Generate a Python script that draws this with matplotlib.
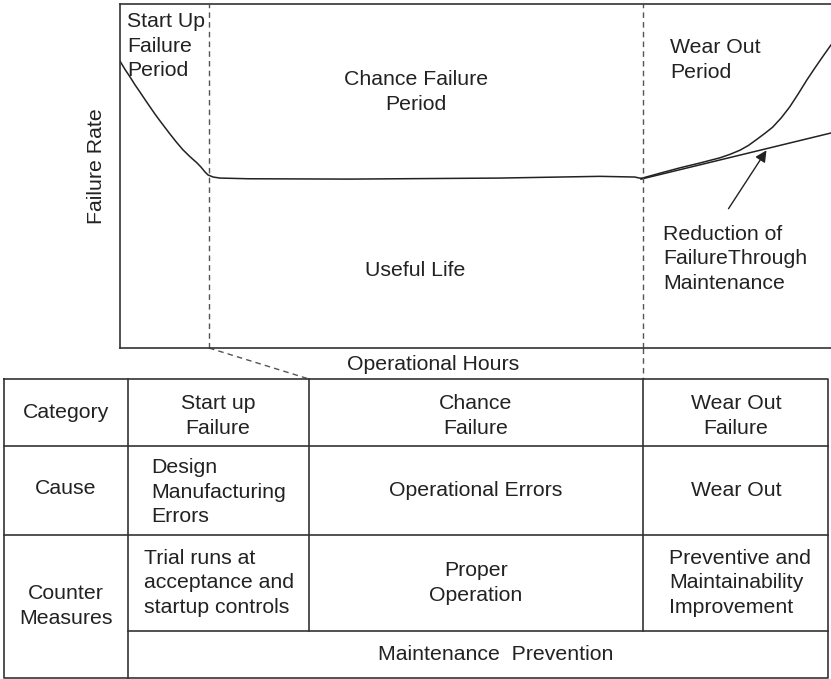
import matplotlib
matplotlib.use("Agg")
import matplotlib.pyplot as plt

plt.rcParams['font.family'] = ['Liberation Sans', 'DejaVu Sans']

# ---- data (hours 0..100, failure rate 0..100, arbitrary units) ----
early_hours = [0, 0.7, 1.41, 2.11, 2.81, 3.52, 4.22, 4.92, 5.63, 6.33, 7.03, 7.95, 8.86, 9.85,
               10.83, 11.39, 11.9, 12.38, 13.1, 14.06, 18.0, 32.3, 53.4, 67.5, 72.4, 73.3]
early_rate = [83.4, 81.0, 78.8, 76.5, 74.4, 72.2, 70.1, 68.0, 66.0, 64.1, 62.2, 59.8, 57.6, 55.6,
              53.8, 52.6, 51.3, 50.3, 49.7, 49.4, 49.2, 49.1, 49.4, 49.9, 49.7, 49.3]
wear_hours = [73.3, 76.1, 78.8, 81.6, 84.4, 85.8, 87.2, 88.4, 89.6, 90.7, 91.8, 93.0, 94.2,
              95.4, 96.6, 97.7, 98.8, 100]
wear_rate = [49.3, 50.9, 52.4, 53.8, 55.3, 56.3, 57.5, 58.9, 60.7, 62.4, 64.2, 66.9, 70.1,
             73.9, 77.9, 81.3, 84.6, 88.1]
maint_hours = [73.3, 100]
maint_rate = [49.1, 62.5]
phase_bounds = [12.5, 73.6]

row_labels = ["Category", "Cause", "Counter\nMeasures"]
category_texts = ["Start up\nFailure", "Chance\nFailure", "Wear Out\nFailure"]
cause_texts = ["Design\nManufacturing\nErrors", "Operational Errors", "Wear Out"]
measure_texts = ["Trial runs at\nacceptance and\nstartup controls", "Proper\nOperation",
                 "Preventive and\nMaintainability\nImprovement"]
common_measure = "Maintenance  Prevention"

W, H = 831, 679
fig = plt.figure(figsize=(W / 100, H / 100), dpi=100)
fig.patch.set_facecolor('white')

TXT = '#222222'
LINE = '#333333'
DASH = '#555555'
FS = 15.3
LS = 1.38

# overlay axes in pixel coordinates for the layout
ov = fig.add_axes([0, 0, 1, 1], zorder=0)
ov.set_xlim(0, W)
ov.set_ylim(H, 0)
ov.axis('off')

# top plot
px_left, px_right, px_top, px_bot = 120, 831, 4, 348
ax = fig.add_axes([px_left / W, 1 - px_bot / H, (px_right - px_left) / W, (px_bot - px_top) / H], zorder=1)
ax.patch.set_alpha(0)
ax.set_xlim(0, 100)
ax.set_ylim(0, 100)
ax.set_xticks([])
ax.set_yticks([])
for s in ['left', 'top', 'bottom']:
    ax.spines[s].set_color(LINE)
    ax.spines[s].set_linewidth(1.2)
ax.spines['right'].set_visible(False)

ax.plot(early_hours, early_rate, color=TXT, lw=1.1, solid_joinstyle='round')
ax.plot(wear_hours, wear_rate, color=TXT, lw=1.1, solid_joinstyle='round')
ax.plot(maint_hours, maint_rate, color=TXT, lw=1.1)
for b in phase_bounds:
    ax.axvline(b, color=DASH, lw=1.0, ls=(0, (4, 3)))

# connectors from plot to table
ov.plot([209, 309], [348, 379], color=DASH, lw=1.0, ls=(0, (4, 3)))
ov.plot([643, 643], [348, 379], color=DASH, lw=1.0, ls=(0, (4, 3)))

# arrow
ov.annotate('', xy=(768, 148), xytext=(727, 211),
            arrowprops=dict(arrowstyle='-|>', color=TXT, lw=1.0, mutation_scale=17))

# plot texts
ov.text(127, 12, "Start Up\nFailure\nPeriod", ha='left', va='top', fontsize=FS, color=TXT, linespacing=LS)
ov.text(416, 92, "Chance Failure\nPeriod", ha='center', va='center', fontsize=FS, color=TXT, linespacing=LS)
ov.text(670, 60, "Wear Out\nPeriod", ha='left', va='center', fontsize=FS, color=TXT, linespacing=LS)
ov.text(663, 259, "Reduction of\nFailureThrough\nMaintenance", ha='left', va='center', fontsize=FS,
        color=TXT, linespacing=LS)
ov.text(415, 270, "Useful Life", ha='center', va='center', fontsize=FS, color=TXT)
ov.text(97, 166, "Failure Rate", ha='center', va='center', rotation=90, fontsize=FS, color=TXT)
ov.text(433, 364, "Operational Hours", ha='center', va='center', fontsize=FS, color=TXT)

# table
xs = [4, 128, 309, 643, 828]
ys = [379, 446, 535, 631, 678]
lk = dict(color=LINE, lw=1.2, solid_capstyle='projecting')
ov.plot([xs[0], xs[-1], xs[-1], xs[0], xs[0]], [ys[0], ys[0], ys[-1], ys[-1], ys[0]], **lk)
ov.plot([xs[0], xs[-1]], [ys[1], ys[1]], **lk)
ov.plot([xs[0], xs[-1]], [ys[2], ys[2]], **lk)
ov.plot([xs[1], xs[-1]], [ys[3], ys[3]], **lk)
ov.plot([xs[1], xs[1]], [ys[0], ys[-1]], **lk)
for x in xs[2:4]:
    ov.plot([x, x], [ys[0], ys[3]], **lk)

ov.text(66, 412, row_labels[0], ha='center', va='center', fontsize=FS, color=TXT)
ov.text(66, 489, row_labels[1], ha='center', va='center', fontsize=FS, color=TXT)
ov.text(66, 606, row_labels[2], ha='center', va='center', fontsize=FS, color=TXT, linespacing=LS)

cat_x = [218, 476, 736]
for x, t in zip(cat_x, category_texts):
    ov.text(x, 416, t, ha='center', va='center', fontsize=FS, color=TXT, linespacing=LS)

ov.text(151, 492, cause_texts[0], ha='left', va='center', fontsize=FS, color=TXT, linespacing=LS)
ov.text(476, 490, cause_texts[1], ha='center', va='center', fontsize=FS, color=TXT)
ov.text(736, 490, cause_texts[2], ha='center', va='center', fontsize=FS, color=TXT)

ov.text(144, 583, measure_texts[0], ha='left', va='center', fontsize=FS, color=TXT, linespacing=LS)
ov.text(476, 583, measure_texts[1], ha='center', va='center', fontsize=FS, color=TXT, linespacing=LS)
ov.text(669, 583, measure_texts[2], ha='left', va='center', fontsize=FS, color=TXT, linespacing=LS)
ov.text(496, 654, common_measure, ha='center', va='center', fontsize=FS, color=TXT)

fig.savefig('out.png', dpi=100, facecolor='white')
